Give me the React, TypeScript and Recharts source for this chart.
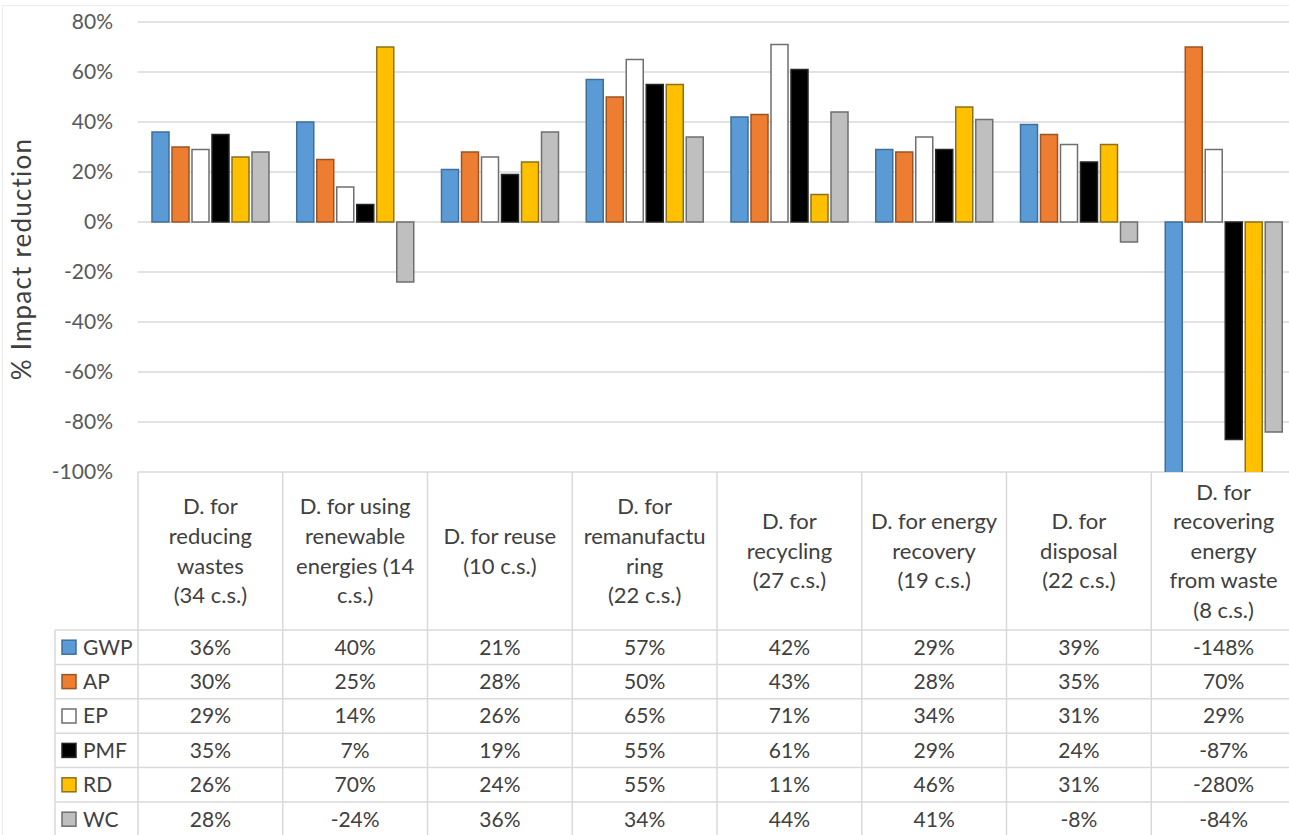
import { BarChart, Bar, XAxis, YAxis, CartesianGrid } from 'recharts';

// Design strategies, header lines shown in the table under each group
const categories = [
  ['D. for', 'reducing', 'wastes', '(34 c.s.)'],
  ['D. for using', 'renewable', 'energies (14', 'c.s.)'],
  ['D. for reuse', '(10 c.s.)'],
  ['D. for', 'remanufactu', 'ring', '(22 c.s.)'],
  ['D. for', 'recycling', '(27 c.s.)'],
  ['D. for energy', 'recovery', '(19 c.s.)'],
  ['D. for', 'disposal', '(22 c.s.)'],
  ['D. for', 'recovering', 'energy', 'from waste', '(8 c.s.)'],
];

// % impact reduction per indicator
const gwp = [36, 40, 21, 57, 42, 29, 39, -148];
const ap = [30, 25, 28, 50, 43, 28, 35, 70];
const ep = [29, 14, 26, 65, 71, 34, 31, 29];
const pmf = [35, 7, 19, 55, 61, 29, 24, -87];
const rd = [26, 70, 24, 55, 11, 46, 31, -280];
const wc = [28, -24, 36, 34, 44, 41, -8, -84];

const yTicks = [-100, -80, -60, -40, -20, 0, 20, 40, 60, 80];

const series = [
  { key: 'GWP', values: gwp, fill: '#5b9bd5', stroke: '#3f6f9c' },
  { key: 'AP', values: ap, fill: '#ed7d31', stroke: '#9c5424' },
  { key: 'EP', values: ep, fill: '#ffffff', stroke: '#6f6f6f' },
  { key: 'PMF', values: pmf, fill: '#000000', stroke: '#262626' },
  { key: 'RD', values: rd, fill: '#ffc000', stroke: '#8c7020' },
  { key: 'WC', values: wc, fill: '#bfbfbf', stroke: '#6f6f6f' },
];

const data = categories.map((lines, i) => {
  const row: Record<string, any> = { cat: lines.join(' ') };
  series.forEach((s) => (row[s.key] = s.values[i]));
  return row;
});

const FONT = 'Lato, "Open Sans", sans-serif';
const CHART_W = 1300;
const CHART_H = 835;
const MARGIN = { top: 22, right: 4, left: 0, bottom: 0 };
const Y_AXIS_W = 138;
const BAND = (CHART_W - MARGIN.left - MARGIN.right - Y_AXIS_W) / categories.length;
const HEADER_H = 158;
const ROW_H = 34.4;
const LINE_H = 29.6;
const LEGEND_X = 55;
const GRID = '#d9d9d9';
const TEXT = '#404040';

// Each x tick draws one column of the data table: header, values and cell borders
function TableColumn(props: any) {
  const { x, y, index } = props;
  const lines = categories[index];
  const left = x - BAND / 2;
  const right = x + BAND / 2;
  const bottom = y + HEADER_H + ROW_H * series.length + 10;
  const headerMid = y + HEADER_H / 2;
  const rowsTop = y + HEADER_H;
  return (
    <g fontFamily={FONT} fontSize={21} fill={TEXT}>
      <line x1={left} x2={left} y1={y} y2={bottom} stroke={GRID} strokeWidth={1.5} />
      {index === categories.length - 1 && (
        <line x1={right} x2={right} y1={y} y2={bottom} stroke={GRID} strokeWidth={1.5} />
      )}
      {series.map((s, r) => (
        <line key={s.key} x1={index === 0 ? LEGEND_X : left} x2={right}
          y1={rowsTop + r * ROW_H} y2={rowsTop + r * ROW_H} stroke={GRID} strokeWidth={1.5} />
      ))}
      {lines.map((t, k) => (
        <text key={k} x={x} y={headerMid + (k - (lines.length - 1) / 2) * LINE_H}
          dy="0.35em" textAnchor="middle" fontSize={22}>{t}</text>
      ))}
      {series.map((s, r) => (
        <text key={s.key} x={x} y={rowsTop + r * ROW_H + ROW_H / 2} dy="0.35em" textAnchor="middle">
          {`${s.values[index]}%`}
        </text>
      ))}
      {index === 0 && (
        <g>
          <line x1={LEGEND_X} x2={LEGEND_X} y1={rowsTop} y2={bottom} stroke={GRID} strokeWidth={1.5} />
          {series.map((s, r) => {
            const cy = rowsTop + r * ROW_H + ROW_H / 2;
            return (
              <g key={s.key}>
                <rect x={62} y={cy - 7} width={14} height={14} fill={s.fill} stroke={s.stroke} strokeWidth={1.5} />
                <text x={83} y={cy} dy="0.35em" textAnchor="start">{s.key}</text>
              </g>
            );
          })}
        </g>
      )}
    </g>
  );
}

function AxisTitle(props: any) {
  const { viewBox } = props;
  const cy = viewBox.y + viewBox.height / 2 + 12;
  return (
    <text x={22} y={cy} transform={`rotate(-90, 22, ${cy})`} textAnchor="middle" dy="0.35em"
      fontFamily={FONT} fontSize={26} letterSpacing={1.2} fill={TEXT}>
      % Impact reduction
    </text>
  );
}

export default function App() {
  return (
    <div style={{ position: 'absolute', left: 0, top: 0, width: 1289, height: 835, overflow: 'hidden', background: '#fff' }}>
      <div style={{ position: 'absolute', left: 2, top: 5, right: 0, bottom: 0, borderTop: '1px solid #ececec', borderLeft: '1px solid #ececec' }} />
      <BarChart width={CHART_W} height={CHART_H} data={data} margin={MARGIN}
        barCategoryGap={14} barGap={3}>
        <CartesianGrid vertical={false} stroke={GRID} strokeWidth={1.5} />
        <XAxis dataKey="cat" interval={0} axisLine={false} tickLine={false} tickSize={0}
          tickMargin={0} height={CHART_H - MARGIN.top - 450} tick={<TableColumn />} />
        <YAxis width={Y_AXIS_W} domain={[-100, 80]} ticks={yTicks} allowDataOverflow
          axisLine={false} tickLine={false} tickSize={0} tickMargin={25}
          tickFormatter={(v) => `${v}%`}
          tick={{ fontFamily: FONT, fontSize: 21, fill: '#595959' }}
          label={<AxisTitle />} />
        {series.map((s) => (
          <Bar key={s.key} dataKey={s.key} fill={s.fill} stroke={s.stroke} strokeWidth={1.5}
            isAnimationActive={false} />
        ))}
      </BarChart>
    </div>
  );
}
